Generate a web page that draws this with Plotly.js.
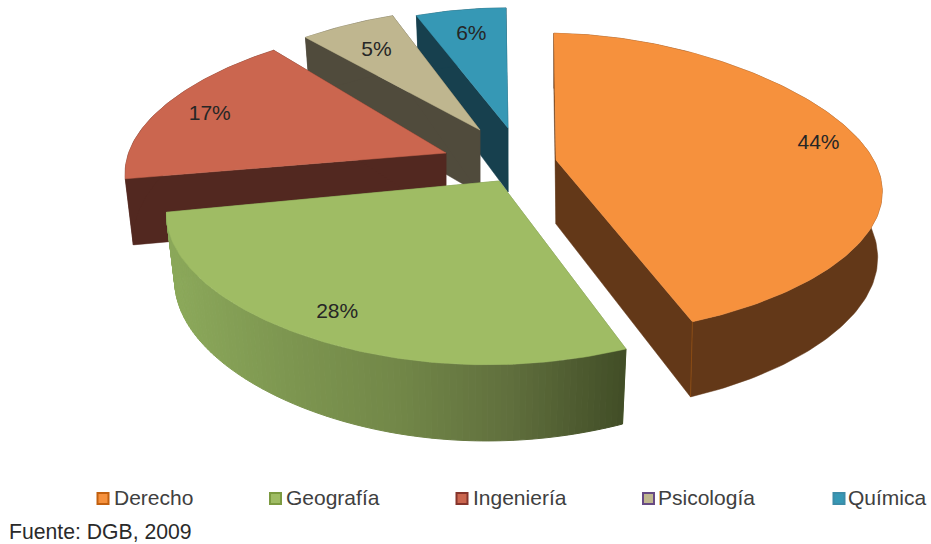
<!DOCTYPE html>
<html lang="es">
<head>
<meta charset="utf-8">
<title>Matrícula por carrera</title>
<script src="https://cdn.plot.ly/plotly-3.0.1.min.js"></script>
<style>
html,body{margin:0;padding:0;background:#fff}
#chart{width:931px;height:544px}
</style>
</head>
<body>
<div id="chart"></div>
<script>
// Career shares, in percent
const categories = ['Derecho', 'Geografía', 'Ingeniería', 'Psicología', 'Química'];
const shares = [44, 28, 17, 5, 6];

// Colours per slice
const topColors = ['#F6913D', '#9FBC64', '#CB664F', '#BFB68F', '#3698B5'];
const wallColors = ['#633818', '#6F8547', '#522820', '#504B3C', '#17404E'];
const swatchLines = ['#C2600F', '#7C9A40', '#86352C', '#674A84', '#3C8CA8'];
const swatchFills = ['#F6913D', '#9FBC64', '#CB664F', '#BFB68F', '#3698B5'];

// Exploded slice tips and per-slice perspective corrections
const tipX = [556, 499, 446, 480, 508];
const tipY = [160, 181, 153, 130, 128];
const sliceScale = [1, 1, 1, 0.95, 0.94];
const xScale = [0.988, 1, 0.975, 1, 1];
const yScale = [1, 1.05, 1, 1, 1];
const skewX = [0, 12, -6, 0, 0];
const skewY = [5, 0, 4, 0, 0];
const padStart = [0, 0, 0, 2.4, 0];
const padEnd = [0, 0, 0, 1.2, 0];
const baseShrink = [0.986, 0.975, 0.975, 0.975, 0.975];

// Percentage label placement
const labelRadius = [0.81, 0.9, 0.8, 0.65, 0.75];
const labelNudgeX = [17, 3, -10, -11, 1];
const labelNudgeY = [3, -8, 2, -8, -2];

// Legend layout
const swatchX = [103, 275.5, 462, 648.5, 839];
const legendTextX = [114, 286, 473, 658, 848];
const swatchY = 498.5;
const legendTextY = 500;

// Green rim shading, left to right
const rimShade = [[139, 168, 90], [125, 150, 80], [114, 135, 72], [96, 111, 61], [66, 78, 39]];

// Tilted-disc projection
const radiusX = 324, radiusY = 147, depth = 64, startAngle = -0.5;

function project(i, r, deg, bottom) {
  const t = deg * Math.PI / 180;
  const X = r * Math.sin(t) * sliceScale[i];
  const Y = r * Math.cos(t) * sliceScale[i];
  const px = 1 / (1 + 0.21 * Y + 0.09 * Y * Y);
  const py = 1 / (1 + 0.16 * Y);
  const sx = tipX[i] + radiusX * X * px * xScale[i] * (bottom ? baseShrink[i] : 1) + skewX[i] * Y;
  const sy = tipY[i] - radiusY * Y * py * yScale[i] + skewY[i] * X + (bottom ? depth * py : 0);
  return [sx, sy];
}

function poly(points, color, lineWidth) {
  const xs = points.map(p => p[0]), ys = points.map(p => p[1]);
  xs.push(xs[0]); ys.push(ys[0]);
  return {
    type: 'scatter', mode: lineWidth ? 'lines' : 'none', x: xs, y: ys,
    fill: 'toself', fillcolor: color,
    line: {color: color, width: lineWidth || 0},
    hoverinfo: 'skip', showlegend: false
  };
}

function arc(i, a0, a1, bottom) {
  const out = [], n = Math.max(2, Math.ceil(Math.abs(a1 - a0)));
  for (let k = 0; k <= n; k++) out.push(project(i, 1, a0 + (a1 - a0) * k / n, bottom));
  return out;
}

function mix(stops, f) {
  const u = Math.min(0.9999, Math.max(0, f)) * (stops.length - 1);
  const k = Math.floor(u), w = u - k;
  const c = stops[k].map((v, j) => Math.round(v + (stops[k + 1][j] - v) * w));
  return 'rgb(' + c.join(',') + ')';
}

// Slice angle spans, clockwise from the top
const spans = [];
shares.reduce((acc, v, i) => {
  const total = shares.reduce((a, b) => a + b, 0);
  const next = acc + v / total * 360;
  spans.push([acc - padStart[i], next + padEnd[i]]);
  return next;
}, startAngle);

const traces = [];

// Painted back to front
[4, 3, 2, 1, 0].forEach(i => {
  const [a0, a1] = spans[i];
  const tipT = project(i, 0, 0, false), tipB = project(i, 0, 0, true);

  // Radial cut faces
  [a0, a1].forEach(a => {
    traces.push(poly([tipT, project(i, 1, a, false), project(i, 1, a, true), tipB], wallColors[i], 0.5));
  });

  // Outer rim
  if (i === 1) {
    const xMin = project(i, 1, a1, true)[0], xMax = project(i, 1, a0, false)[0];
    const n = Math.ceil(a1 - a0);
    for (let k = 0; k < n; k++) {
      const s = a0 + (a1 - a0) * k / n, e = a0 + (a1 - a0) * (k + 1) / n;
      const pts = [project(i, 1, s, false), project(i, 1, e, false), project(i, 1, e, true), project(i, 1, s, true)];
      const shade = mix(rimShade, (pts[0][0] - xMin) / (xMax - xMin));
      traces.push(poly(pts, shade, 1));
    }
  } else {
    const upper = arc(i, a0, a1, false), lower = arc(i, a1, a0, true);
    traces.push(poly(upper.concat(lower), wallColors[i], 0.5));
  }

  // Top face
  traces.push(poly([tipT].concat(arc(i, a0, a1, false)), topColors[i], 0.5));

  // Corner seam on the large slice
  if (i === 0) {
    const c0 = project(i, 1, a1, false), c1 = project(i, 1, a1, true);
    traces.push({type: 'scatter', mode: 'lines', x: [c0[0], c1[0]], y: [c0[1], c1[1]],
      line: {color: '#8A4A12', width: 1}, hoverinfo: 'skip', showlegend: false});
  }
});

// Percentage labels
const labelPos = shares.map((v, i) => project(i, labelRadius[i], (spans[i][0] + spans[i][1]) / 2, false));
traces.push({
  type: 'scatter', mode: 'text',
  x: labelPos.map((p, i) => p[0] + labelNudgeX[i]), y: labelPos.map((p, i) => p[1] + labelNudgeY[i]),
  text: shares.map(v => v + '%'), textposition: 'middle center',
  textfont: {family: 'Liberation Sans, Arial, sans-serif', size: 21, color: '#262626'},
  hoverinfo: 'skip', showlegend: false
});

// Legend swatches and names
traces.push({
  type: 'scatter', mode: 'markers',
  x: swatchX, y: categories.map(() => swatchY),
  marker: {symbol: 'square', size: 11, color: swatchFills, line: {color: swatchLines, width: 2}},
  hoverinfo: 'skip', showlegend: false
});
traces.push({
  type: 'scatter', mode: 'text',
  x: legendTextX, y: categories.map(() => legendTextY),
  text: categories, textposition: 'middle right',
  textfont: {family: 'Liberation Sans, Arial, sans-serif', size: 21, color: '#404040'},
  hoverinfo: 'skip', showlegend: false
});

const hidden = {visible: false, fixedrange: true};
const layout = {
  width: 931, height: 544,
  margin: {l: 0, r: 0, t: 0, b: 0},
  paper_bgcolor: '#ffffff', plot_bgcolor: '#ffffff',
  xaxis: Object.assign({range: [0, 931]}, hidden),
  yaxis: Object.assign({range: [544, 0]}, hidden),
  showlegend: false,
  annotations: [{
    text: 'Fuente: DGB, 2009', xref: 'x', yref: 'y', x: 7, y: 531,
    xanchor: 'left', yanchor: 'middle', showarrow: false,
    font: {family: 'Liberation Sans, Arial, sans-serif', size: 21.2, color: '#2a2a2a'}
  }]
};

Plotly.newPlot('chart', traces, layout, {staticPlot: true, displayModeBar: false});
</script>
</body>
</html>
